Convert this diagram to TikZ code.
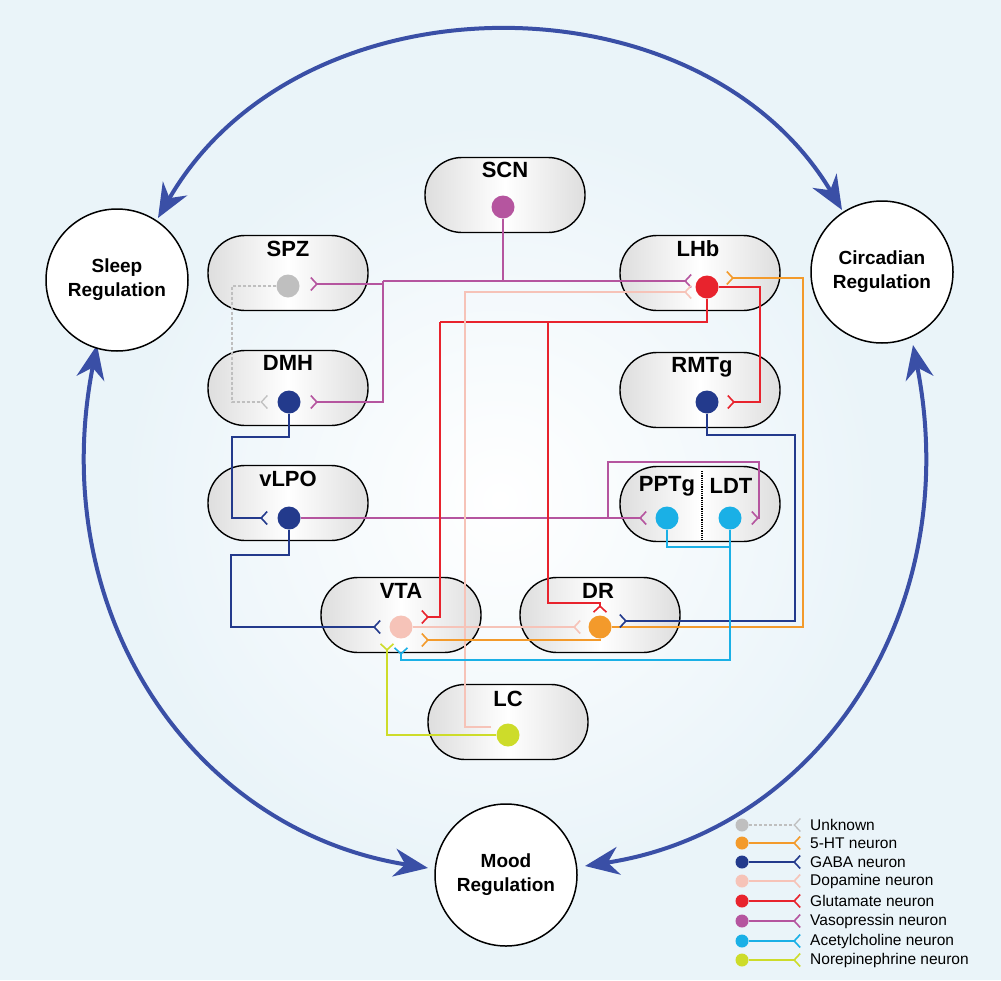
\documentclass[tikz,border=0pt]{standalone}
\usepackage{fontspec}
\setmainfont{Liberation Sans}
\usetikzlibrary{arrows.meta}
\definecolor{bg}{HTML}{EAF4F9}
\definecolor{navy}{HTML}{233A8C}
\definecolor{arc}{HTML}{3A4FA6}
\definecolor{ht}{HTML}{F39A2B}
\definecolor{da}{HTML}{F6C3B8}
\definecolor{glu}{HTML}{E8232D}
\definecolor{vp}{HTML}{B5559F}
\definecolor{ach}{HTML}{1AB0E6}
\definecolor{ne}{HTML}{CDDC2A}
\definecolor{unk}{HTML}{BFBFBF}
\begin{document}
\begin{tikzpicture}[x=1pt,y=-1pt,
 pill/.style={draw,line width=1.4pt,rounded corners=37pt,minimum width=160pt,minimum height=75pt,left color=black!13,right color=black!13,middle color=white},
 lbl/.style={font=\bfseries\fontsize{22}{22}\selectfont},
 soma/.style={circle,inner sep=0pt,minimum size=23pt,fill=#1},
 big/.style={circle,draw,line width=1.5pt,fill=white,minimum size=142pt,align=center,font=\bfseries\fontsize{19}{24}\selectfont},
 w/.style={line width=1.6pt,draw=#1,-{Straight Barb[reversed,length=6pt,width=13pt,line width=1.6pt]}},
 wn/.style={line width=1.6pt,draw=#1},
 arcline/.style={line width=4pt,draw=arc,{Stealth[length=34pt,width=28pt,inset=11pt]}-{Stealth[length=34pt,width=28pt,inset=11pt]}},
 leg/.style={font=\fontsize{15.5}{16}\selectfont,anchor=west,inner sep=0pt}]
\fill[bg] (0,0) rectangle (1001,980);
\shade[inner color=white,outer color=bg] (500,500) ellipse (380 and 380);
\useasboundingbox (0,0) rectangle (1001,980);
% big arcs
\draw[arcline] (158,218) .. controls (300,-28) and (700,-28) .. (842,210);
\draw[arcline] (97,345) .. controls (45,610) and (190,830) .. (428,868);
\draw[arcline] (913,345) .. controls (965,610) and (820,830) .. (585,866);
\node[big] (sleep) at (117,280) {Sleep\\Regulation};
\node[big] (circ) at (882,272) {Circadian\\Regulation};
\node[big] (mood) at (506,875) {Mood\\Regulation};
% pills
\node[pill] (SCN) at (505,195) {};
\node[pill] (SPZ) at (288,273) {};
\node[pill] (LHb) at (700,273) {};
\node[pill] (DMH) at (288,388) {};
\node[pill] (RMTg) at (700,390) {};
\node[pill] (vLPO) at (288,503) {};
\node[pill] (PL) at (700,504) {};
\node[pill] (VTA) at (401,615) {};
\node[pill] (DR) at (600,615) {};
\node[pill] (LC) at (508,722) {};
\node[lbl] at (505,170) {SCN};
\node[lbl] at (288,249) {SPZ};
\node[lbl] at (698,249) {LHb};
\node[lbl] at (288,363) {DMH};
\node[lbl] at (702,367) {RMTg};
\node[lbl] at (288,479) {vLPO};
\node[lbl] at (667,486) {PPTg};
\node[lbl] at (731,486) {LDT};
\draw[densely dotted,line width=1.2pt] (702,471) -- (702,541);
\node[lbl] at (401,591) {VTA};
\node[lbl] at (598,591) {DR};
\node[lbl] at (508,699) {LC};
% somata
\node[soma=vp] (sSCN) at (503,207) {};
\node[soma=unk] (sSPZ) at (288,286) {};
\node[soma=glu] (sLHb) at (707,287) {};
\node[soma=navy] (sDMH) at (289,402) {};
\node[soma=navy] (sRMTg) at (707,402) {};
\node[soma=navy] (svLPO) at (289,518) {};
\node[soma=ach] (sPPTg) at (667,518) {};
\node[soma=ach] (sLDT) at (730,518) {};
\node[soma=da] (sVTA) at (401,627) {};
\node[soma=ht] (sDR) at (600,627) {};
\node[soma=ne] (sLC) at (508,735) {};
% terminal coordinates
\coordinate (tSPZ) at (310,284);
\coordinate (tDMHv) at (310,402);
\coordinate (tDMHu) at (268,402);
\coordinate (tLHbv) at (692,281);
\coordinate (tLHbd) at (692,292);
\coordinate (tLHbh) at (726,278);
\coordinate (tRMTg) at (727,402);
\coordinate (tvLPO) at (268,518);
\coordinate (tPPTg) at (647,518);
\coordinate (tLDT) at (751,518);
\coordinate (tVTAg) at (421,617);
\coordinate (tVTAb) at (381,627);
\coordinate (tVTAh) at (421,640);
\coordinate (tVTAa) at (401,647);
\coordinate (tVTAn) at (387,643);
\coordinate (tDRg) at (600,613);
\coordinate (tDRd) at (581,627);
\coordinate (tDRb) at (619,621);
\coordinate (tLC) at (491,727);
% unknown
\draw[wn=unk,densely dashed,line width=1.3pt,-{Straight Barb[reversed,length=6pt,width=13pt,line width=1.3pt]}] (sSPZ) -- (232,286) -- (232,402) -- (tDMHu);
% vasopressin
\draw[wn=vp] (sSCN) -- (503,281);
\draw[w=vp] (383,281) -- (383,284) -- (tSPZ);
\draw[w=vp] (383,281) -- (383,402) -- (tDMHv);
\draw[w=vp] (383,281) -- (tLHbv);
\draw[w=vp] (svLPO) -- (tPPTg);
\draw[w=vp] (608,518) -- (608,462) -- (759,462) -- (759,518) -- (tLDT);
% glutamate
\draw[wn=glu] (sLHb) -- (707,322) -- (440,322);
\draw[w=glu] (440,322) -- (440,617) -- (tVTAg);
\draw[w=glu] (548,322) -- (548,603) -- (600,603) -- (tDRg);
\draw[w=glu] (sLHb) -- (760,287) -- (760,402) -- (tRMTg);
% dopamine
\draw[w=da] (sVTA) -- (tDRd);
\draw[w=da] (tLC) -- (465,727) -- (465,292) -- (tLHbd);
% 5-HT
\draw[w=ht] (sDR) -- (803,627) -- (803,278) -- (tLHbh);
\draw[w=ht] (sDR) -- (600,640) -- (tVTAh);
% GABA
\draw[w=navy] (sDMH) -- (289,437) -- (232,437) -- (232,518) -- (tvLPO);
\draw[w=navy] (svLPO) -- (289,555) -- (231,555) -- (231,627) -- (tVTAb);
\draw[w=navy] (sRMTg) -- (707,435) -- (795,435) -- (795,621) -- (tDRb);
% ACh
\draw[wn=ach] (sPPTg) -- (667,547) -- (730,547);
\draw[w=ach] (sLDT) -- (730,660) -- (401,660) -- (tVTAa);
% NE
\draw[w=ne] (sLC) -- (387,735) -- (tVTAn);
% legend
\foreach \y/\c/\t [count=\i] in {825/unk/Unknown,843/ht/5-HT neuron,862/navy/GABA neuron,881/da/Dopamine neuron,901/glu/Glutamate neuron,921/vp/Vasopressin neuron,941/ach/Acetylcholine neuron,960/ne/Norepinephrine neuron}{
  \node[soma=\c,minimum size=13pt] (ld\i) at (742,\y) {};
  \coordinate (lt\i) at (801,\y);
  \node[leg] (lx\i) at (810,\y) {\t};
}
\draw[wn=unk,densely dashed,line width=1.3pt,-{Straight Barb[reversed,length=6pt,width=13pt,line width=1.3pt]}] (ld1) -- (lt1);
\foreach \c [count=\i from 2] in {ht,navy,da,glu,vp,ach,ne}{
  \draw[w=\c] (ld\i) -- (lt\i);
}
\end{tikzpicture}
\end{document}
